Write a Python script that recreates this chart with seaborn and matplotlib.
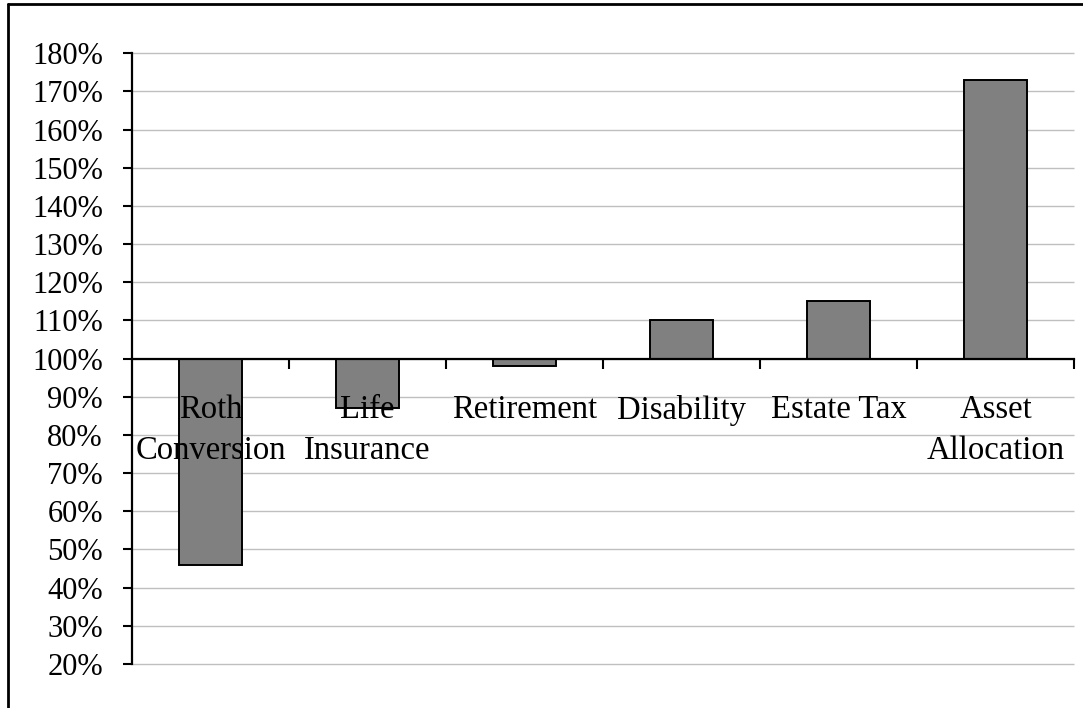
import matplotlib
matplotlib.use("Agg")
import matplotlib.pyplot as plt
from matplotlib.lines import Line2D
from matplotlib.ticker import FuncFormatter, MultipleLocator
import seaborn as sns
import pandas as pd

# Strategy outcomes relative to a 100% baseline
categories = ["Roth\nConversion", "Life\nInsurance", "Retirement",
              "Disability", "Estate Tax", "Asset\nAllocation"]
values = [46, 87, 98, 110, 115, 173]
baseline = 100
y_min, y_max = 20, 180

df = pd.DataFrame({
    "category": categories,
    "change": [v - baseline for v in values],
})

sns.set_theme(style="white")
plt.rcParams["font.family"] = ["Liberation Serif", "DejaVu Serif"]

W, H = 1083, 708
fig = plt.figure(figsize=(W / 100, H / 100), dpi=100)
ax = fig.add_axes([132 / W, 1 - 664 / H, (1074 - 132) / W, (664 - 53.3) / H])

# bars sit above the gridlines but below the axis and its labels
sns.barplot(data=df, x="category", y="change", ax=ax, color="#808080",
            saturation=1, width=0.395, edgecolor="black", linewidth=1.4,
            zorder=2)

ax.set_xlim(-0.5, len(categories) - 0.5)
ax.set_ylim(y_min - baseline, y_max - baseline)
ax.yaxis.set_major_locator(MultipleLocator(10))
ax.yaxis.set_major_formatter(FuncFormatter(lambda t, _: f"{t + baseline:.0f}%"))
ax.set_xlabel("")
ax.set_ylabel("")

# horizontal gridlines drawn underneath everything
ax.grid(False)
ax.hlines([t for t in ax.get_yticks() if y_min - baseline <= t <= y_max - baseline],
          -0.5, len(categories) - 0.5, color="#bfbfbf", linewidth=1.0,
          zorder=0, clip_on=False)
ax.set_xlim(-0.5, len(categories) - 0.5)

for side in ("top", "right"):
    ax.spines[side].set_visible(False)
ax.spines["left"].set_color("black")
ax.spines["left"].set_linewidth(1.6)
ax.spines["bottom"].set_color("black")
ax.spines["bottom"].set_linewidth(1.6)
ax.spines["bottom"].set_position(("data", 0))
ax.spines["bottom"].set_zorder(4)
ax.set_axisbelow(False)

# category ticks sit between bars
ax.set_xticks([i + 0.5 for i in range(len(categories))], minor=True)
ax.tick_params(axis="x", which="minor", direction="out", length=7.2,
               width=1.5, color="black", bottom=True)
ax.tick_params(axis="x", which="major", length=0, pad=26,
               labelsize=23.5, labelcolor="black")
ax.tick_params(axis="y", which="major", direction="out", length=6.5,
               width=1.5, color="black", left=True, pad=14.4,
               labelsize=22, labelcolor="black")
for lbl in ax.get_xticklabels():
    lbl.set_linespacing(1.45)

# frame around the chart area
fig.add_artist(Line2D([8 / W, 1], [1 - 4 / H, 1 - 4 / H], color="black",
                      linewidth=2, transform=fig.transFigure))
fig.add_artist(Line2D([8 / W, 8 / W], [0, 1 - 4 / H], color="black",
                      linewidth=2, transform=fig.transFigure))

fig.savefig("out.png", dpi=100, facecolor="white")
